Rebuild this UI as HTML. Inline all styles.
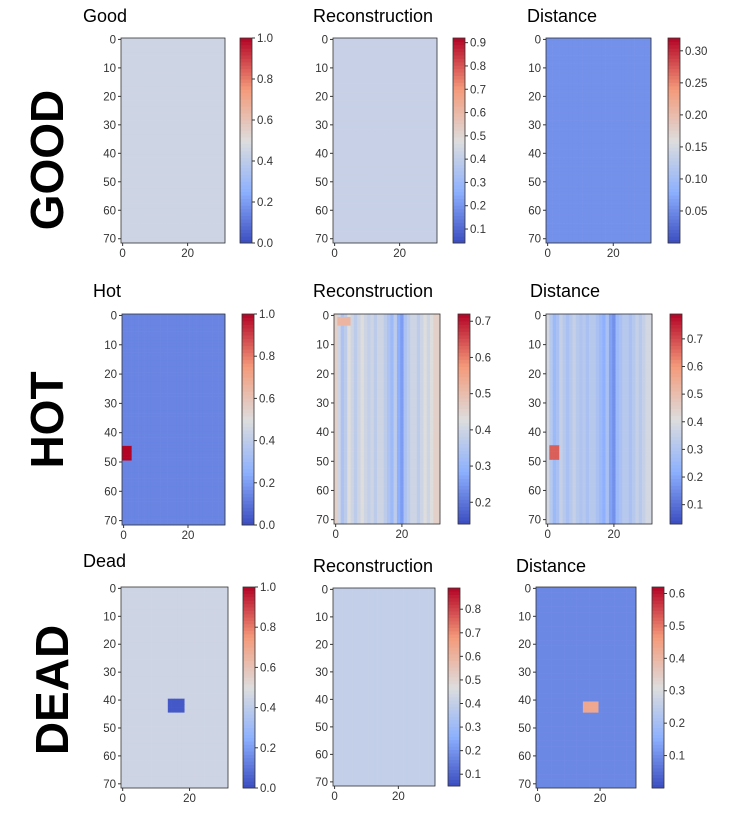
<!DOCTYPE html>
<html><head><meta charset="utf-8"><style>
html,body{margin:0;padding:0;background:#fff;width:730px;height:813px;overflow:hidden}
svg{display:block;font-family:"Liberation Sans",sans-serif}
</style></head><body>
<svg id="fig" width="730" height="813" viewBox="0 0 730 813">
<text transform="translate(63,160) rotate(-90)" text-anchor="middle" font-size="46" font-weight="bold">GOOD</text>
<text transform="translate(63,420) rotate(-90)" text-anchor="middle" font-size="46" font-weight="bold">HOT</text>
<text transform="translate(68,690) rotate(-90)" text-anchor="middle" font-size="46" font-weight="bold">DEAD</text>
</svg>
<script>
// data (normalized cell values per panel)
const panelTitles=["Good","Reconstruction","Distance","Hot","Reconstruction","Distance","Dead","Reconstruction","Distance"];
const baseValues=[0.45,0.43,0.17,0.14,0.40,0.33,0.45,0.42,0.15];
const cbarMin=[0,0.04,0.0,0,0.14,0.03,0,0.05,0.0];
const cbarMax=[1,0.92,0.32,1,0.72,0.79,1,0.89,0.62];
const cbarTicks=[
 ["0.0","0.2","0.4","0.6","0.8","1.0"],
 ["0.1","0.2","0.3","0.4","0.5","0.6","0.7","0.8","0.9"],
 ["0.05","0.10","0.15","0.20","0.25","0.30"],
 ["0.0","0.2","0.4","0.6","0.8","1.0"],
 ["0.2","0.3","0.4","0.5","0.6","0.7"],
 ["0.1","0.2","0.3","0.4","0.5","0.6","0.7"],
 ["0.0","0.2","0.4","0.6","0.8","1.0"],
 ["0.1","0.2","0.3","0.4","0.5","0.6","0.7","0.8"],
 ["0.1","0.2","0.3","0.4","0.5","0.6"]];
// anomaly patches: [panel,row,col,nrows,ncols,value]
const patches=[[3,45,0,5,3,1.0],[5,45,1,5,3,0.85],[6,40,14,5,5,0.03],[8,41,15,4,5,0.7],[4,1,1,3,4,0.65]];
// column profile for hot reconstruction / distance stripes
const hotColProfile=[0.55,0.45,0.35,0.40,0.50,0.45,0.40,0.45,0.50,0.45,0.42,0.45,0.40,0.45,0.45,0.40,0.35,0.30,0.40,0.25,0.20,0.35,0.40,0.45,0.45,0.40,0.45,0.50,0.45,0.50,0.55,0.55];

const geom=[[121,225,38,243,240,83,22],[333,437,38,243,453,313,22],[546,651,38,243,668,527,22],
 [122,225,314,525,242,93,297],[334,440,314,524,458,313,297],[546,652,314,524,670,530,297],
 [121,228,587,788,243,83,567],[333,435,588,786,448,313,572],[536,636,587,788,652,516,572]];
const stops=[[0,[59,76,192]],[0.25,[141,176,254]],[0.5,[221,221,221]],[0.75,[244,154,123]],[1,[180,4,38]]];
function cmap(v){v=Math.max(0,Math.min(1,v));for(let i=0;i<4;i++){const a=stops[i],b=stops[i+1];if(v<=b[0]){const t=(v-a[0])/(b[0]-a[0]);return 'rgb('+a[1].map((c,k)=>Math.round(c+(b[1][k]-c)*t)).join(',')+')';}}return 'rgb(180,4,38)';}
const NS='http://www.w3.org/2000/svg',svg=document.getElementById('fig');
function mk(tag,at,par){const e=document.createElementNS(NS,tag);for(const k in at)e.setAttribute(k,at[k]);(par||svg).appendChild(e);return e;}
const R=72,C=32;
geom.forEach((g,p)=>{
 const [x0,x1,y0,y1,cbx,tx,ty]=g;const cw=(x1-x0)/C,rh=(y1-y0)/R;
 const grp=mk('g',{});
 
 
 const t=mk('text',{x:tx,y:ty,'font-size':18,fill:'#000'},grp);t.textContent=panelTitles[p];
 
 
 const grid=[];for(let r=0;r<R;r++){grid.push([]);for(let c=0;c<C;c++){let v=baseValues[p];if(p===4||p===5)v=hotColProfile[c]*(p===5?0.85:1);grid[r].push(v);}}
 patches.filter(q=>q[0]===p).forEach(q=>{for(let r=q[1];r<q[1]+q[3];r++)for(let c=q[2];c<q[2]+q[4];c++)grid[r][c]=q[5];});
 for(let r=0;r<R;r++)for(let c=0;c<C;c++){
  const cell=mk('rect',{x:x0+c*cw,y:y0+r*rh,width:cw+0.3,height:rh+0.3,fill:cmap(grid[r][c])},grp);
  
  
 }
 mk('rect',{x:x0,y:y0,width:x1-x0,height:y1-y0,fill:'none',stroke:'#333','stroke-width':0.8},grp);
 for(let k=0;k<=70;k+=10){const y=y0+(k+0.5)*rh;mk('line',{x1:x0-3,x2:x0,y1:y,y2:y,stroke:'#333'},grp);
  const l=mk('text',{x:x0-5,y:y+4,'font-size':11.5,'text-anchor':'end',fill:'#333'},grp);l.textContent=k;
  
  }
 [0,20].forEach(k=>{const x=x0+(k+0.5)*cw;mk('line',{x1:x,x2:x,y1:y1,y2:y1+3,stroke:'#333'},grp);
  const l=mk('text',{x:x,y:y1+14,'font-size':11.5,'text-anchor':'middle',fill:'#333'},grp);l.textContent=k;
  
  });
 // colorbar
 const cb=mk('g',{},grp);
 
 
 const N=60,ch=(y1-y0)/N;
 for(let i=0;i<N;i++)mk('rect',{x:cbx,y:y1-(i+1)*ch,width:12,height:ch+0.4,fill:cmap((i+0.5)/N)},cb);
 mk('rect',{x:cbx,y:y0,width:12,height:y1-y0,fill:'none',stroke:'#333','stroke-width':0.8},cb);
 cbarTicks[p].forEach(s=>{const v=parseFloat(s);const y=y1-(v-cbarMin[p])/(cbarMax[p]-cbarMin[p])*(y1-y0);
  mk('line',{x1:cbx+12,x2:cbx+15,y1:y,y2:y,stroke:'#333'},cb);
  const l=mk('text',{x:cbx+17,y:y+4,'font-size':11.5,fill:'#333'},cb);l.textContent=s;
  
  });
});
</script>
</body></html>
